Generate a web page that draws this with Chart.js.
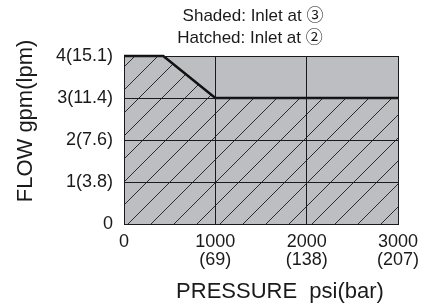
<!DOCTYPE html>
<html>
<head>
<meta charset="utf-8">
<script src="https://cdn.jsdelivr.net/npm/chart.js@4.4.1/dist/chart.umd.min.js"></script>
<style>
  html, body { margin: 0; padding: 0; background: #fff; }
  #wrap { width: 430px; height: 306px; position: relative; }
</style>
</head>
<body>
<div id="wrap"><canvas id="grafic"></canvas></div>
<script>
// valors llegits de la figura
const pressio = [0, 430, 1000, 3000];          // psi
const cabalRatllat = [4, 4, 3, 3];             // gpm, entrada 2 (ratllat)
const pressioOmbrejat = [0, 3000];
const cabalOmbrejat = [4, 4];                  // gpm, entrada 3 (ombrejat)
const ticsX = [0, 1000, 2000, 3000];
const etiquetesBar = ['', '(69)', '(138)', '(207)'];
const etiquetesY = ['0', '1(3.8)', '2(7.6)', '3(11.4)', '4(15.1)'];
const titol = ['Shaded: Inlet at \u2462', 'Hatched: Inlet at \u2461'];
const titolX = 'PRESSURE  psi(bar)';
const titolY = 'FLOW gpm(lpm)';

const FONT = "'Liberation Sans', Arial, 'DejaVu Sans', sans-serif";
const FONT_TITOL = "'Liberation Sans', 'Noto Sans CJK JP', sans-serif";

function ferRatllat() {
    const s = 23;
    const c = document.createElement('canvas');
    c.width = s; c.height = s;
    const g = c.getContext('2d');
    g.fillStyle = '#bdbec2';
    g.fillRect(0, 0, s, s);
    g.strokeStyle = '#2a2a2a';
    g.lineWidth = 1;
    g.beginPath();
    g.moveTo(0, s); g.lineTo(s, 0);
    g.moveTo(-2, 2); g.lineTo(2, -2);
    g.moveTo(s - 2, s + 2); g.lineTo(s + 2, s - 2);
    g.stroke();
    const p = g.createPattern(c, 'repeat');
    p.setTransform(new DOMMatrix().translate(7, 0));
    return p;
}

const textos = {
    id: 'textos',
    afterDraw(chart) {
        const ctx = chart.ctx;
        ctx.save();
        ctx.fillStyle = '#1a1a1a';
        ctx.textAlign = 'center';
        ctx.textBaseline = 'middle';
        ctx.font = '17px ' + FONT_TITOL;
        ctx.fillText(titol[0], 253, 16);
        ctx.fillText(titol[1], 250, 38);
        ctx.font = '22px ' + FONT;
        ctx.fillText(titolX, 280, 292);
        ctx.translate(32, 121);
        ctx.rotate(-Math.PI / 2);
        ctx.textBaseline = 'alphabetic';
        ctx.fillText(titolY, 0, 0);
        ctx.restore();
    }
};

const ctx = document.getElementById('grafic').getContext('2d');
new Chart(ctx, {
    type: 'line',
    data: {
        datasets: [
            {
                label: 'Hatched',
                data: pressio.map((x, i) => ({ x: x, y: cabalRatllat[i] })),
                borderColor: '#111',
                borderWidth: 2.5,
                backgroundColor: ferRatllat(),
                fill: 'origin',
                pointRadius: 0,
                tension: 0,
                clip: false
            },
            {
                label: 'Shaded',
                data: pressioOmbrejat.map((x, i) => ({ x: x, y: cabalOmbrejat[i] })),
                borderWidth: 0,
                borderColor: 'rgba(0,0,0,0)',
                backgroundColor: '#bdbec2',
                fill: 'origin',
                pointRadius: 0
            }
        ]
    },
    options: {
        responsive: true,
        maintainAspectRatio: false,
        animation: false,
        layout: { padding: { left: 0, right: 32, top: 56, bottom: 0 } },
        plugins: {
            legend: { display: false },
            tooltip: { enabled: false }
        },
        scales: {
            x: {
                type: 'linear',
                min: 0,
                max: 3000,
                afterFit: s => { s.height = 82; },
                afterBuildTicks: s => { s.ticks = ticsX.map(v => ({ value: v })); },
                grid: { color: '#1a1a1a', lineWidth: 1, drawTicks: false, z: 1 },
                border: { color: '#1a1a1a', width: 1, z: 1 },
                ticks: {
                    padding: 9,
                    maxRotation: 0,
                    color: '#1a1a1a',
                    font: { family: FONT, size: 18, lineHeight: 1.0 },
                    callback: v => {
                        const i = ticsX.indexOf(v);
                        return etiquetesBar[i] ? [String(v), etiquetesBar[i]] : String(v);
                    }
                }
            },
            y: {
                min: 0,
                max: 4,
                afterFit: s => { s.width = 124; },
                grid: { color: '#1a1a1a', lineWidth: 1, drawTicks: false, z: 1 },
                border: { color: '#1a1a1a', width: 1, z: 1 },
                ticks: {
                    stepSize: 1,
                    padding: 11,
                    color: '#1a1a1a',
                    font: { family: FONT, size: 18 },
                    callback: v => etiquetesY[v]
                }
            }
        }
    },
    plugins: [textos]
});
</script>
</body>
</html>
